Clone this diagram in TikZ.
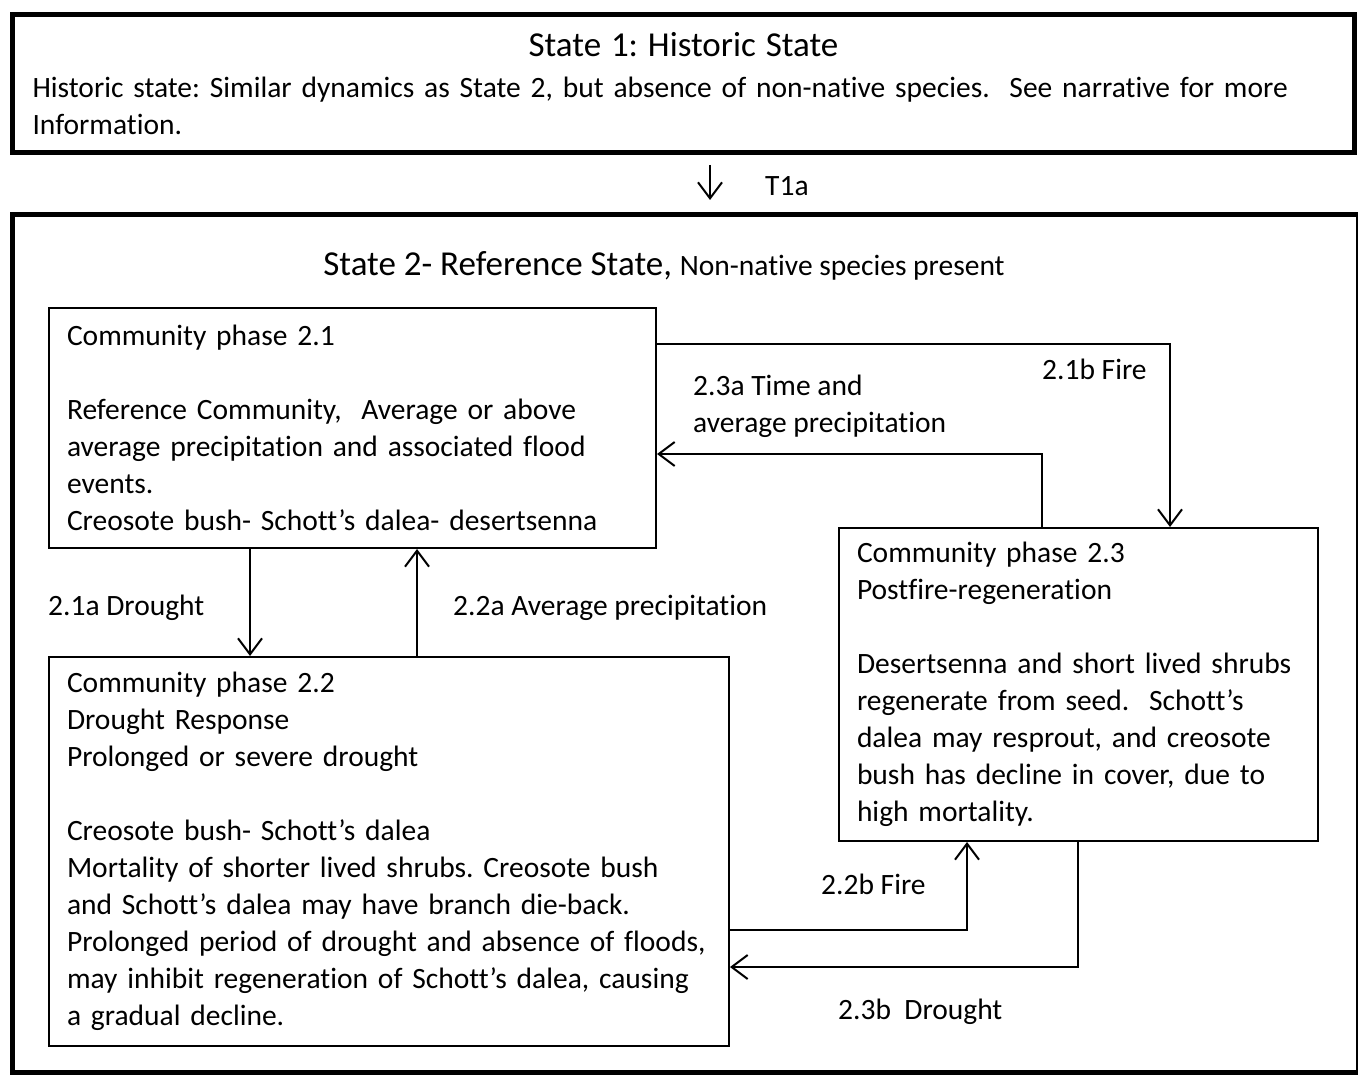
\documentclass[tikz,border=0pt]{standalone}
\usepackage{fontspec}
\setmainfont{Carlito}[Ligatures=CommonOff]
\frenchspacing
\usetikzlibrary{arrows.meta,positioning}
\newcommand{\bodyfont}{\fontsize{29.5}{37}\selectfont}
\newcommand{\headfont}{\fontsize{35}{41}\selectfont}
\tikzset{
  state/.style ={rectangle, draw=black, line width=5pt, anchor=north west, inner sep=0pt},
  phase/.style ={rectangle, draw=black, line width=2pt, anchor=north west, align=left,
                 font=\bodyfont, inner xsep=18pt, inner ysep=8pt},
  fl/.style    ={-{Straight Barb[length=16pt,width=24pt]}, line width=2pt, draw=black},
  lbl/.style   ={font=\bodyfont, anchor=west, inner sep=0pt, align=left},
}
\begin{document}
\begin{tikzpicture}[x=1pt,y=-1pt]
  \useasboundingbox (0,0) rectangle (1358,1075);
  \node[state, minimum width=1342pt, minimum height=138pt, text width=1302pt, inner xsep=20pt,
        align=left, font=\bodyfont] (s1) at (10,12)
    {\makebox[1302pt]{\headfont State 1: Historic State}\\[4pt]
     Historic state: Similar dynamics as State 2, but absence of non-native species.\ \ See narrative for more\\
     Information.};
  \node[state, minimum width=1346pt, minimum height=858pt] (s2) at (10,212) {};
  \node[font=\headfont, inner sep=0pt] (s2t) at (664,266)
    {State 2- Reference State, {\bodyfont Non-native species present}};
  \node[phase, minimum width=607pt, minimum height=240pt, text width=571pt] (p21) at (48,307)
    {Community phase 2.1\\[37pt]
     Reference Community,\ \ Average or above\\
     average precipitation and associated flood\\
     events.\\
     Creosote bush- Schott’s dalea- desertsenna};
  \node[phase, minimum width=680pt, minimum height=389pt, text width=644pt] (p22) at (48,656)
    {Community phase 2.2\\
     Drought Response\\
     Prolonged or severe drought\\[37pt]
     Creosote bush- Schott’s dalea\\
     Mortality of shorter lived shrubs. Creosote bush\\
     and Schott’s dalea may have branch die-back.\\
     \mbox{Prolonged period of drought and absence of floods,}\\
     \mbox{may inhibit regeneration of Schott’s dalea, causing}\\
     a gradual decline.};
  \node[phase, minimum width=479pt, minimum height=313pt, text width=443pt] (p23) at (838,527)
    {Community phase 2.3\\
     Postfire-regeneration\\[37pt]
     \mbox{Desertsenna and short lived shrubs}\\
     regenerate from seed.\ \ Schott’s\\
     dalea may resprout, and creosote\\
     bush has decline in cover, due to\\
     high mortality.};
  \node[lbl] (lt1a) at (765,186) {T1a};
  \node[lbl] (l21a) at (48,608) {2.1a Drought};
  \node[lbl] (l22a) at (453,608) {2.2a Average precipitation};
  \node[lbl] (l21b) at (1042,369) {2.1b Fire};
  \node[lbl] (l23a) at (693,406) {2.3a Time and\\average precipitation};
  \node[lbl] (l22b) at (821,884) {2.2b Fire};
  \node[lbl] (l23b) at (838,1012) {2.3b\ \ Drought};
  \draw[fl, shorten <=10pt, shorten >=12pt] (s1.south -| 710,0) -- (s2.north -| 710,0);
  \draw[fl] (p21.south -| 250,0) -- (p22.north -| 250,0);
  \draw[fl] (p22.north -| 417,0) -- (p21.south -| 417,0);
  \draw[fl] (p21.east |- 0,344) -| (p23.north -| 1170,0);
  \draw[fl] (p23.north -| 1042,0) |- (p21.east |- 0,454);
  \draw[fl] (p22.east |- 0,930) -| (p23.south -| 967,0);
  \draw[fl] (p23.south -| 1078,0) |- (p22.east |- 0,967);
\end{tikzpicture}
\end{document}
